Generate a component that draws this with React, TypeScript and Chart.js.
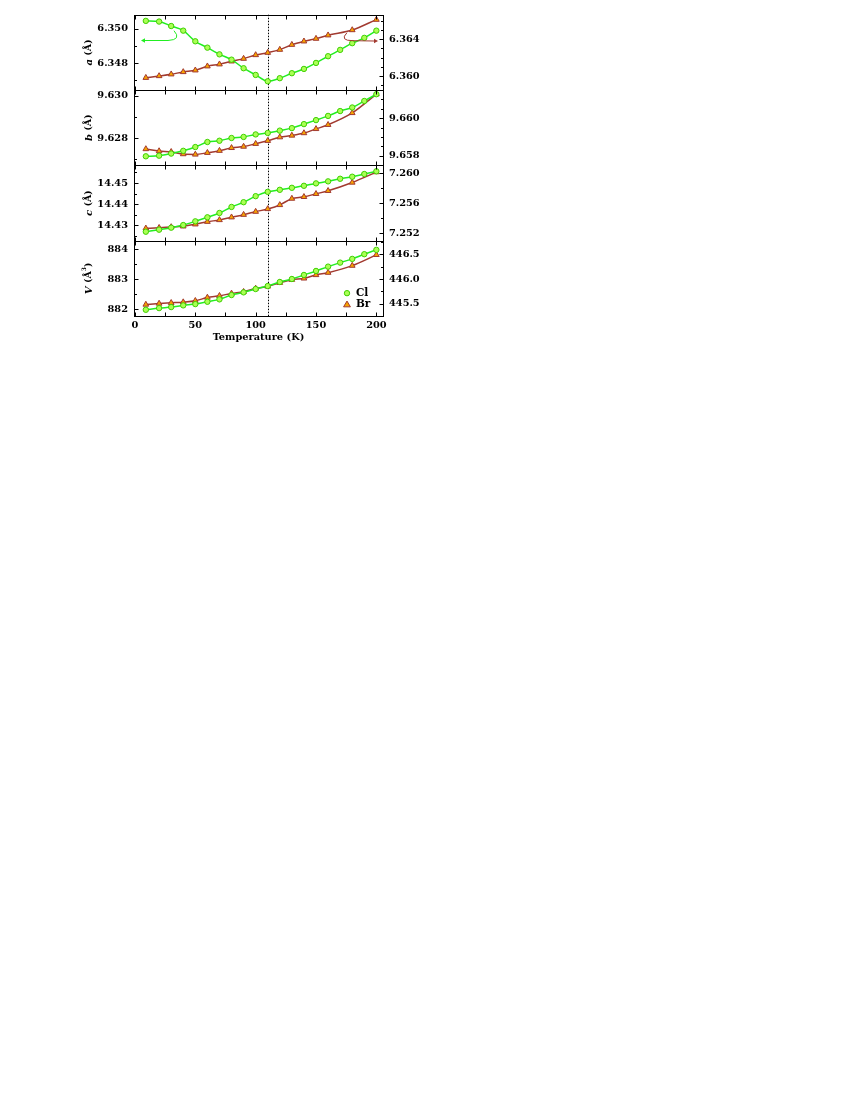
import React, { useEffect, useRef } from 'react';
import { Chart, registerables } from 'chart.js';

Chart.register(...registerables);

// ---------------- data ----------------
const TEMPS_CL = [9, 20, 30, 40, 50, 60, 70, 80, 90, 100, 110, 120, 130, 140, 150, 160, 170, 180, 190, 200];
const TEMPS_BR = [9, 20, 30, 40, 50, 60, 70, 80, 90, 100, 110, 120, 130, 140, 150, 160, 180, 200];

const A_CL = [6.35047, 6.35043, 6.35017, 6.3499, 6.34928, 6.34891, 6.34852, 6.34821, 6.34771, 6.34732, 6.34695, 6.34713, 6.34742, 6.34767, 6.34802, 6.34841, 6.34878, 6.34917, 6.34948, 6.3499];
const A_BR = [6.35981, 6.36, 6.36019, 6.36044, 6.36062, 6.36106, 6.36128, 6.3616, 6.36189, 6.36229, 6.36254, 6.36287, 6.36341, 6.36378, 6.36407, 6.36444, 6.36501, 6.36614];

const B_CL = [9.62713, 9.62716, 9.62726, 9.62739, 9.62757, 9.62781, 9.62787, 9.628, 9.62805, 9.62817, 9.62824, 9.62835, 9.62847, 9.62866, 9.62885, 9.62905, 9.62928, 9.62945, 9.62976, 9.63008];
const B_BR = [9.65836, 9.65825, 9.65821, 9.65809, 9.65807, 9.65816, 9.65827, 9.65842, 9.65849, 9.65864, 9.6588, 9.65899, 9.65908, 9.65921, 9.65943, 9.65965, 9.66028, 9.66128];

const C_CL = [14.427, 14.42796, 14.42891, 14.43015, 14.43191, 14.43381, 14.43586, 14.43871, 14.44095, 14.44381, 14.44585, 14.44681, 14.44776, 14.44871, 14.44985, 14.45081, 14.45204, 14.453, 14.45428, 14.45557];
const C_BR = [7.25267, 7.25275, 7.25285, 7.25294, 7.25321, 7.25355, 7.25378, 7.25414, 7.25448, 7.25488, 7.25524, 7.25577, 7.25661, 7.25684, 7.25724, 7.25764, 7.25874, 7.26012];

const V_CL = [881.972, 882.028, 882.062, 882.119, 882.162, 882.24, 882.32, 882.464, 882.554, 882.665, 882.765, 882.9, 883.0, 883.134, 883.268, 883.412, 883.546, 883.67, 883.827, 883.972];
const V_BR = [445.488, 445.508, 445.522, 445.536, 445.563, 445.629, 445.663, 445.71, 445.744, 445.81, 445.851, 445.925, 445.986, 446.012, 446.081, 446.127, 446.268, 446.484];

// tick labels
const X_TICKS = [0, 50, 100, 150, 200];
const A_LEFT_TICKS = [6.348, 6.35];
const A_RIGHT_TICKS = [6.36, 6.364];
const B_LEFT_TICKS = [9.628, 9.63];
const B_RIGHT_TICKS = [9.658, 9.66];
const C_LEFT_TICKS = [14.43, 14.44, 14.45];
const C_RIGHT_TICKS = [7.252, 7.256, 7.26];
const V_LEFT_TICKS = [882, 883, 884];
const V_RIGHT_TICKS = [445.5, 446.0, 446.5];

const TRANSITION_T = 110;
const SERIES_LABELS = ['Cl', 'Br'];
const X_TITLE = 'Temperature (K)';

// ---------------- styles ----------------
const FONT_FAMILY = '"DejaVu Serif", "Liberation Serif", serif';
const TICK_FONT = { family: FONT_FAMILY, size: 9.8, weight: 'bold' as const };
const CL_LINE = '#22ee22';
const CL_FILL = '#aaff55';
const CL_EDGE = '#3fcf00';
const BR_LINE = '#a23a30';
const BR_FILL = '#f7a300';
const BR_EDGE = '#a23a30';

const LEFT_W = 51;
const RIGHT_W = 50;

type AxisSpec = { id: string; min: number; max: number; ticks: number[]; dec: number; minor: number };
type PanelSpec = { letter: string; sup: string; left: AxisSpec; right: AxisSpec; cl: number[]; br: number[] };

const PANELS: PanelSpec[] = [
  {
    letter: 'a', sup: '',
    left: { id: 'aL', min: 6.34644, max: 6.35083, ticks: A_LEFT_TICKS, dec: 3, minor: 0.001 },
    right: { id: 'aR', min: 6.35847, max: 6.36668, ticks: A_RIGHT_TICKS, dec: 3, minor: 0.001 },
    cl: A_CL, br: A_BR,
  },
  {
    letter: 'b', sup: '',
    left: { id: 'bL', min: 9.6267, max: 9.63028, ticks: B_LEFT_TICKS, dec: 3, minor: 0.001 },
    right: { id: 'bR', min: 9.65749, max: 9.6615, ticks: B_RIGHT_TICKS, dec: 3, minor: 0.0005 },
    cl: B_CL, br: B_BR,
  },
  {
    letter: 'c', sup: '',
    left: { id: 'cL', min: 14.42276, max: 14.45838, ticks: C_LEFT_TICKS, dec: 2, minor: 0.005 },
    right: { id: 'cR', min: 7.25104, max: 7.26101, ticks: C_RIGHT_TICKS, dec: 3, minor: 0.002 },
    cl: C_CL, br: C_BR,
  },
  {
    letter: 'V', sup: '3',
    left: { id: 'VL', min: 881.765, max: 884.278, ticks: V_LEFT_TICKS, dec: 0, minor: 0.5 },
    right: { id: 'VR', min: 445.258, max: 446.768, ticks: V_RIGHT_TICKS, dec: 1, minor: 0.25 },
    cl: V_CL, br: V_BR,
  },
];

function drawTriangle(ctx: CanvasRenderingContext2D, x: number, y: number, r: number) {
  ctx.beginPath();
  ctx.moveTo(x, y - r);
  ctx.lineTo(x + r * 0.95, y + r * 0.6);
  ctx.lineTo(x - r * 0.95, y + r * 0.6);
  ctx.closePath();
}

function drawYTitle(ctx: CanvasRenderingContext2D, cx: number, cy: number, letter: string, sup: string) {
  ctx.save();
  ctx.translate(cx, cy);
  ctx.rotate(-Math.PI / 2);
  ctx.fillStyle = '#000';
  ctx.textBaseline = 'middle';
  ctx.textAlign = 'left';
  const fItal = `italic bold 10px ${FONT_FAMILY}`;
  const fBold = `bold 9.5px ${FONT_FAMILY}`;
  const fSup = `bold 6px ${FONT_FAMILY}`;
  const p1 = letter;
  const p2 = sup ? ' (Å' : ' (Å)';
  const p3 = sup;
  const p4 = sup ? ')' : '';
  ctx.font = fItal; const w1 = ctx.measureText(p1).width;
  ctx.font = fBold; const w2 = ctx.measureText(p2).width;
  ctx.font = fSup; const w3 = p3 ? ctx.measureText(p3).width : 0;
  ctx.font = fBold; const w4 = p4 ? ctx.measureText(p4).width : 0;
  let x = -(w1 + w2 + w3 + w4) / 2;
  ctx.font = fItal; ctx.fillText(p1, x, 0); x += w1;
  ctx.font = fBold; ctx.fillText(p2, x, 0); x += w2;
  if (p3) { ctx.font = fSup; ctx.fillText(p3, x, -4.5); x += w3; }
  if (p4) { ctx.font = fBold; ctx.fillText(p4, x, 0); }
  ctx.restore();
}

const decorPlugin = {
  id: 'decor',
  beforeDatasetsDraw(chart: any) {
    const { ctx, chartArea } = chart;
    const px = Math.round(chart.scales.x.getPixelForValue(TRANSITION_T)) + 0.5;
    ctx.save();
    ctx.strokeStyle = '#000';
    ctx.lineWidth = 1;
    ctx.setLineDash([1.5, 1.5]);
    ctx.beginPath();
    ctx.moveTo(px, chartArea.top);
    ctx.lineTo(px, chartArea.bottom);
    ctx.stroke();
    ctx.restore();
  },
  afterDraw(chart: any) {
    const { ctx, chartArea } = chart;
    const xs = chart.scales.x;
    const left = Math.round(chartArea.left) + 0.5;
    const right = Math.round(chartArea.right) + 0.5;
    ctx.save();
    ctx.strokeStyle = '#000';
    ctx.lineWidth = 1;
    const line = (x1: number, y1: number, x2: number, y2: number) => {
      ctx.beginPath(); ctx.moveTo(x1, y1); ctx.lineTo(x2, y2); ctx.stroke();
    };
    PANELS.forEach((p) => {
      const L = chart.scales[p.left.id];
      const R = chart.scales[p.right.id];
      const top = Math.round(L.top) + 0.5;
      const bot = Math.round(L.bottom) + 0.5;
      ctx.strokeRect(left, top, right - left, bot - top);
      for (let v = 0; v <= 200; v += 25) {
        const x = Math.round(xs.getPixelForValue(v)) + 0.5;
        line(x, top, x, top + 4);
        line(x, bot, x, bot - 4);
      }
      const yTicks = (scale: any, spec: AxisSpec, xEdge: number, dir: number) => {
        const k0 = Math.ceil(spec.min / spec.minor - 1e-6);
        const k1 = Math.floor(spec.max / spec.minor + 1e-6);
        for (let k = k0; k <= k1; k++) {
          const v = k * spec.minor;
          const isMajor = spec.ticks.some((t) => Math.abs(t - v) < spec.minor * 0.01);
          const y = Math.round(scale.getPixelForValue(v)) + 0.5;
          if (y < top + 1 || y > bot - 1) continue;
          line(xEdge, y, xEdge + dir * (isMajor ? 4 : 2.5), y);
        }
      };
      yTicks(L, p.left, left, 1);
      yTicks(R, p.right, right, -1);
      drawYTitle(ctx, 89, (L.top + L.bottom) / 2, p.letter, p.sup);
    });

    // arrows in panel a
    const aTop = chart.scales.aL.top;
    const drawArrow = (color: string, pts: number[], dirRight: boolean) => {
      ctx.save();
      ctx.strokeStyle = color;
      ctx.fillStyle = color;
      ctx.lineWidth = 1;
      ctx.beginPath();
      ctx.moveTo(pts[0], pts[1]);
      ctx.quadraticCurveTo(pts[2], pts[3], pts[4], pts[5]);
      ctx.lineTo(pts[6], pts[7]);
      ctx.stroke();
      const tipX = dirRight ? pts[6] + 4 : pts[6] - 4;
      const baseX = pts[6];
      ctx.beginPath();
      ctx.moveTo(tipX, pts[7]);
      ctx.lineTo(baseX, pts[7] - 2.2);
      ctx.lineTo(baseX, pts[7] + 2.2);
      ctx.closePath();
      ctx.fill();
      ctx.restore();
    };
    const o = aTop;
    drawArrow(CL_LINE, [174, o + 16, 182, o + 25, 168, o + 25.8, 145, o + 25.8], false);
    drawArrow(BR_LINE, [347, o + 18, 339, o + 26, 353, o + 26, 374, o + 26.3], true);

    // legend in panel V
    const vTop = chart.scales.VL.top;
    const lx = 347;
    const y1 = vTop + 52.5;
    const y2 = vTop + 63.5;
    ctx.lineWidth = 1;
    ctx.fillStyle = CL_FILL; ctx.strokeStyle = CL_EDGE;
    ctx.beginPath(); ctx.arc(lx, y1, 2.7, 0, Math.PI * 2); ctx.fill(); ctx.stroke();
    ctx.fillStyle = BR_FILL; ctx.strokeStyle = BR_EDGE;
    drawTriangle(ctx, lx, y2 + 0.5, 3.6); ctx.fill(); ctx.stroke();
    ctx.fillStyle = '#000';
    ctx.font = `bold 10.5px ${FONT_FAMILY}`;
    ctx.textBaseline = 'middle';
    ctx.textAlign = 'left';
    ctx.fillText(SERIES_LABELS[0], 356, y1);
    ctx.fillText(SERIES_LABELS[1], 356, y2);
    ctx.restore();
  },
};

function makeYScale(spec: AxisSpec, position: 'left' | 'right', weight: number) {
  return {
    type: 'linear',
    position,
    stack: position === 'left' ? 'L' : 'R',
    stackWeight: 1,
    weight,
    min: spec.min,
    max: spec.max,
    afterBuildTicks: (s: any) => { s.ticks = spec.ticks.map((v) => ({ value: v })); },
    afterFit: (s: any) => {
      s.width = position === 'left' ? LEFT_W : RIGHT_W;
      s.paddingTop = 0;
      s.paddingBottom = 0;
    },
    ticks: {
      font: TICK_FONT,
      color: '#000',
      padding: 6,
      callback: (v: any) => Number(v).toFixed(spec.dec),
    },
    grid: { display: false, drawTicks: false },
    border: { display: false },
  };
}

export default function App() {
  const ref = useRef<HTMLCanvasElement | null>(null);
  useEffect(() => {
    if (!ref.current) return;
    const datasets: any[] = [];
    PANELS.forEach((p) => {
      datasets.push({
        label: SERIES_LABELS[0],
        data: TEMPS_CL.map((t, i) => ({ x: t, y: p.cl[i] })),
        yAxisID: p.left.id,
        xAxisID: 'x',
        borderColor: CL_LINE,
        backgroundColor: CL_FILL,
        pointBackgroundColor: CL_FILL,
        pointBorderColor: CL_EDGE,
        pointRadius: 2.7,
        pointBorderWidth: 1,
        borderWidth: 1.5,
        cubicInterpolationMode: 'monotone',
        pointStyle: 'circle',
      });
      datasets.push({
        label: SERIES_LABELS[1],
        data: TEMPS_BR.map((t, i) => ({ x: t, y: p.br[i] })),
        yAxisID: p.right.id,
        xAxisID: 'x',
        borderColor: BR_LINE,
        backgroundColor: BR_FILL,
        pointBackgroundColor: BR_FILL,
        pointBorderColor: BR_EDGE,
        pointRadius: 3.3,
        pointBorderWidth: 1,
        borderWidth: 1.5,
        cubicInterpolationMode: 'monotone',
        pointStyle: 'triangle',
      });
    });
    const scales: any = {
      x: {
        type: 'linear',
        position: 'bottom',
        min: -0.8,
        max: 205.5,
        afterBuildTicks: (s: any) => { s.ticks = X_TICKS.map((v) => ({ value: v })); },
        afterFit: (s: any) => { s.height = 30; s.paddingLeft = 0; s.paddingRight = 0; },
        ticks: { font: TICK_FONT, color: '#000', padding: 4, maxRotation: 0, callback: (v: any) => String(v) },
        grid: { display: false, drawTicks: false },
        border: { display: false },
        title: { display: true, text: X_TITLE, font: TICK_FONT, color: '#000', padding: { top: 0, bottom: 2.6 } },
      },
    };
    PANELS.forEach((p, i) => {
      scales[p.left.id] = makeYScale(p.left, 'left', PANELS.length - i);
      scales[p.right.id] = makeYScale(p.right, 'right', i + 1);
    });
    const chart = new Chart(ref.current, {
      type: 'line',
      data: { datasets },
      options: {
        responsive: false,
        animation: false,
        devicePixelRatio: 1,
        layout: { padding: { left: 83, right: 417, top: 14.7, bottom: 14 } },
        plugins: { legend: { display: false }, tooltip: { enabled: false } },
        scales,
      } as any,
      plugins: [decorPlugin],
    });
    return () => chart.destroy();
  }, []);
  return (
    <div style={{ position: 'absolute', left: 0, top: 0, width: 850, height: 360, background: '#fff' }}>
      <canvas ref={ref} width={850} height={360} />
    </div>
  );
}
